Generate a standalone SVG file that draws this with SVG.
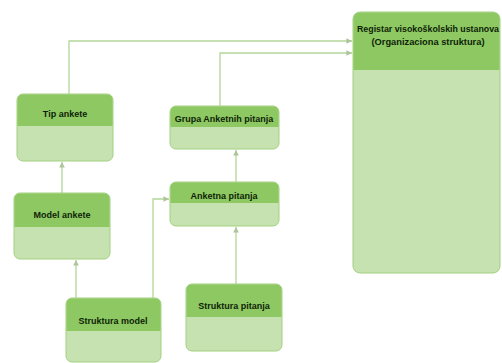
<svg xmlns="http://www.w3.org/2000/svg" width="502" height="363" viewBox="0 0 502 363">
<style>
.body{fill:#c7e2b1;stroke:#a3d07f;stroke-width:1}
.head{fill:#8dc862}
.lbl{font-family:"Liberation Sans",Arial,sans-serif;font-weight:bold;font-size:9px;fill:#0f1f08;text-anchor:middle}
.con{fill:none;stroke:#b2d69a;stroke-width:1.3}
</style>
<defs>
<marker id="ah" viewBox="0 0 10 10" refX="9" refY="5" markerWidth="7" markerHeight="7" orient="auto" markerUnits="userSpaceOnUse">
<path d="M1,1 L9,5 L1,9 Z" fill="#adc59b"/>
</marker>
</defs>
<rect width="502" height="363" fill="#ffffff"/>
<g id="connectors">
<path class="con" d="M69,94 V41 H352" marker-end="url(#ah)"/>
<path class="con" d="M220,106 V53 H352" marker-end="url(#ah)"/>
<path class="con" d="M62,193 V162" marker-end="url(#ah)"/>
<path class="con" d="M76,298 V260" marker-end="url(#ah)"/>
<path class="con" d="M153,298 V199 H169" marker-end="url(#ah)"/>
<path class="con" d="M236,284 V227" marker-end="url(#ah)"/>
<path class="con" d="M236,182 V150" marker-end="url(#ah)"/>
</g>
<g id="registar">
<rect class="body" x="353" y="12" width="147" height="261" rx="7"/>
<path class="head" d="M353.5,70 V19 Q353.5,12.5 360,12.5 H493 Q499.5,12.5 499.5,19 V70 Z"/>
<text class="lbl" x="428" y="32" textLength="142" lengthAdjust="spacingAndGlyphs">Registar visokoškolskih ustanova</text>
<text class="lbl" x="428" y="45" textLength="113" lengthAdjust="spacingAndGlyphs">(Organizaciona struktura)</text>
</g>
<g id="tip-ankete">
<rect class="body" x="17" y="94" width="96" height="67" rx="6"/>
<path class="head" d="M17.5,126 V100 Q17.5,94.5 23,94.5 H107 Q112.5,94.5 112.5,100 V126 Z"/>
<text class="lbl" x="65" y="117">Tip ankete</text>
</g>
<g id="model-ankete">
<rect class="body" x="14" y="193" width="96" height="66" rx="6"/>
<path class="head" d="M14.5,227 V199 Q14.5,193.5 20,193.5 H104 Q109.5,193.5 109.5,199 V227 Z"/>
<text class="lbl" x="62" y="218">Model ankete</text>
</g>
<g id="struktura-model">
<rect class="body" x="66" y="298" width="95" height="64" rx="6"/>
<path class="head" d="M66.5,331 V304 Q66.5,298.5 72,298.5 H155 Q160.5,298.5 160.5,304 V331 Z"/>
<text class="lbl" x="113" y="324">Struktura model</text>
</g>
<g id="grupa-anketnih-pitanja">
<rect class="body" x="170" y="106" width="109" height="43" rx="6"/>
<path class="head" d="M170.5,127 V112 Q170.5,106.5 176,106.5 H273 Q278.5,106.5 278.5,112 V127 Z"/>
<text class="lbl" x="224" y="122">Grupa Anketnih pitanja</text>
</g>
<g id="anketna-pitanja">
<rect class="body" x="170" y="182" width="109" height="44" rx="6"/>
<path class="head" d="M170.5,203 V188 Q170.5,182.5 176,182.5 H273 Q278.5,182.5 278.5,188 V203 Z"/>
<text class="lbl" x="224" y="199">Anketna pitanja</text>
</g>
<g id="struktura-pitanja">
<rect class="body" x="186" y="284" width="96" height="67" rx="6"/>
<path class="head" d="M186.5,317 V290 Q186.5,284.5 192,284.5 H276 Q281.5,284.5 281.5,290 V317 Z"/>
<text class="lbl" x="234" y="309">Struktura pitanja</text>
</g>
</svg>
